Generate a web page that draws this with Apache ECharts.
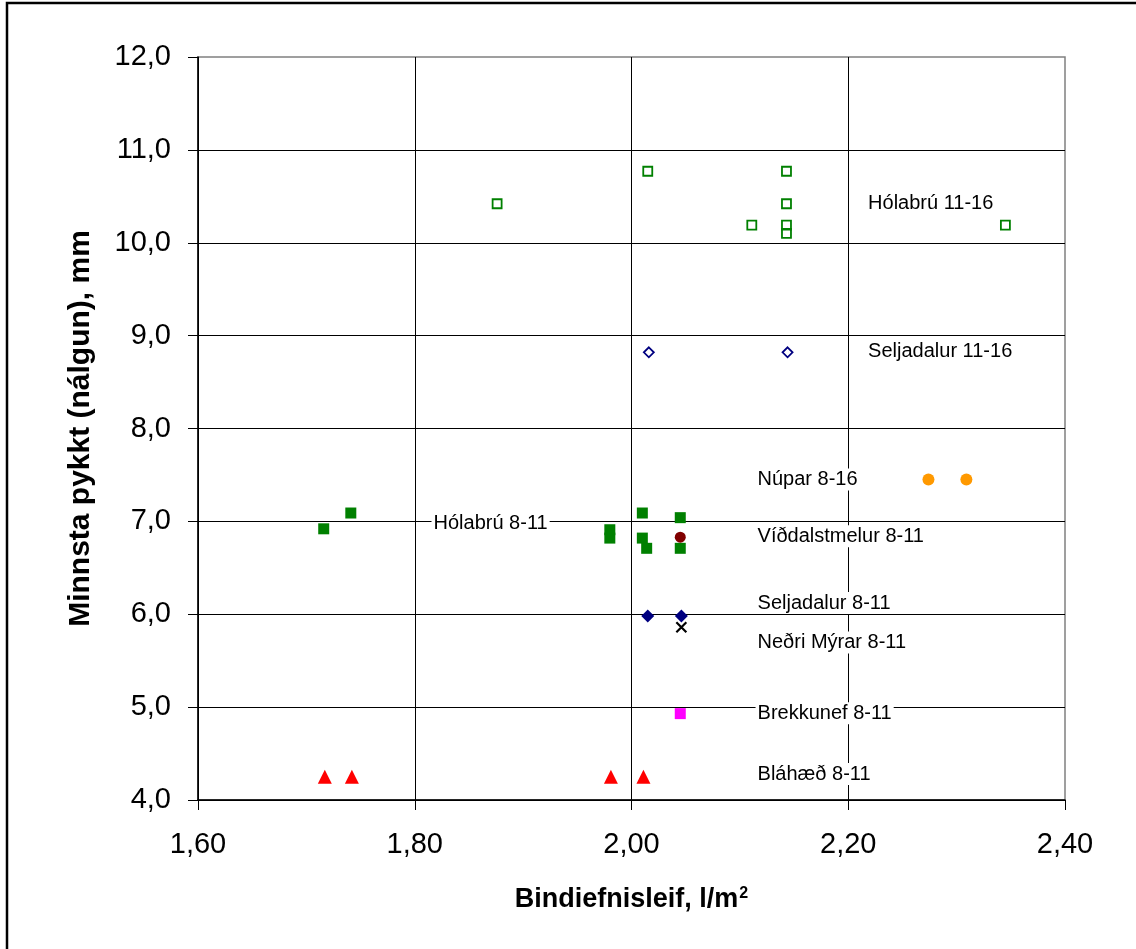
<!DOCTYPE html>
<html>
<head>
<meta charset="utf-8">
<script src="https://cdn.jsdelivr.net/npm/echarts@6/dist/echarts.min.js"></script>
<style>
  html, body { margin: 0; padding: 0; background: #fff; }
  #chart { width: 1136px; height: 949px; }
</style>
</head>
<body>
<div id="chart"></div>
<script>
// tick labels
const xTickLabels = ['1,60', '1,80', '2,00', '2,20', '2,40'];
const yTickLabels = ['4,0', '5,0', '6,0', '7,0', '8,0', '9,0', '10,0', '11,0', '12,0'];

// series values [bindiefnisleif, þykkt]
const holabru1116 = [[1.876, 10.42], [2.015, 10.77], [2.111, 10.19], [2.143, 10.77], [2.143, 10.42], [2.143, 10.19], [2.143, 10.10], [2.345, 10.19]];
const seljadalur1116 = [[2.016, 8.82], [2.144, 8.82]];
const nupar816 = [[2.274, 7.45], [2.309, 7.45]];
const holabru811 = [[1.716, 6.92], [1.741, 7.09], [1.980, 6.91], [1.980, 6.82], [2.010, 7.09], [2.010, 6.82], [2.014, 6.71], [2.045, 7.04], [2.045, 6.71]];
const vidalstmelur811 = [[2.045, 6.83]];
const seljadalur811 = [[2.015, 5.98], [2.046, 5.98]];
const nedriMyrar811 = [[2.046, 5.86]];
const brekkunef811 = [[2.045, 4.93]];
const blahaed811 = [[1.717, 4.25], [1.742, 4.25], [1.981, 4.25], [2.011, 4.25]];

// text labels placed in data space
const labelNames = ['Hólabrú 11-16', 'Seljadalur 11-16', 'Núpar 8-16', 'Hólabrú 8-11', 'Víðdalstmelur 8-11', 'Seljadalur 8-11', 'Neðri Mýrar 8-11', 'Brekkunef 8-11', 'Bláhæð 8-11'];
const labelX = [2.216, 2.216, 2.114, 1.815, 2.114, 2.114, 2.114, 2.114, 2.114];
const labelY = [10.42, 8.83, 7.45, 6.98, 6.84, 6.12, 5.695, 4.935, 4.28];

const FONT = "'Liberation Sans', Arial, sans-serif";

function pts(name, data, symbol, size, style, z) {
    style.opacity = 1;
    return {
        name: name,
        type: 'scatter',
        data: data,
        symbol: symbol,
        symbolSize: size,
        itemStyle: style,
        emphasis: { disabled: true },
        z: z || 3
    };
}

const option = {
    animation: false,
    backgroundColor: '#fff',
    textStyle: { fontFamily: FONT },
    grid: {
        left: 198, right: 71, top: 57, bottom: 149,
        show: true, borderColor: '#808080', borderWidth: 1.5,
        outerBoundsMode: 'none'
    },
    xAxis: {
        type: 'value', min: 1.6, max: 2.4, interval: 0.2,
        name: 'Bindiefnisleif, l/m{sup|2}',
        nameLocation: 'middle', nameGap: 86, nameMoveOverlap: false,
        nameTextStyle: {
            fontFamily: FONT, fontSize: 27, fontWeight: 'bold', color: '#000', lineHeight: 27,
            rich: { sup: { fontFamily: FONT, fontSize: 16, fontWeight: 'bold', color: '#000', verticalAlign: 'top', lineHeight: 27, padding: [0, 0, 14, 1] } }
        },
        axisLine: { show: true, onZero: false, lineStyle: { color: '#000', width: 1.5 } },
        axisTick: { show: true, length: 10, lineStyle: { color: '#000', width: 1 } },
        axisLabel: {
            margin: 30, fontFamily: FONT, fontSize: 29, color: '#000',
            formatter: (v, i) => xTickLabels[i]
        },
        splitLine: { show: true, showMaxLine: false, lineStyle: { color: '#000', width: 1 } }
    },
    yAxis: {
        type: 'value', min: 4, max: 12, interval: 1,
        name: 'Minnsta pykkt (nálgun), mm',
        nameLocation: 'middle', nameRotate: 90, nameGap: 102, nameMoveOverlap: false,
        nameTextStyle: { fontFamily: FONT, fontSize: 30, fontWeight: 'bold', color: '#000' },
        axisLine: { show: true, onZero: false, lineStyle: { color: '#000', width: 1.5 } },
        axisTick: { show: true, length: 10, lineStyle: { color: '#000', width: 1 } },
        axisLabel: {
            margin: 27, fontFamily: FONT, fontSize: 29, color: '#000',
            formatter: (v, i) => yTickLabels[i]
        },
        splitLine: { show: true, showMaxLine: false, lineStyle: { color: '#000', width: 1 } }
    },
    series: [
        {
            name: 'labels',
            type: 'scatter',
            silent: true,
            z: 2,
            symbolSize: 1,
            itemStyle: { color: 'rgba(0,0,0,0)', opacity: 1 },
            data: labelNames.map((n, i) => ({ name: n, value: [labelX[i], labelY[i]] })),
            label: {
                show: true, position: 'right', distance: 0,
                formatter: '{b}', opacity: 1,
                fontFamily: FONT, fontSize: 20, color: '#000',
                backgroundColor: '#fff', padding: [1, 2]
            }
        },
        pts('Hólabrú 11-16', holabru1116, 'rect', 9, { color: 'rgba(0,0,0,0)', borderColor: '#008000', borderWidth: 1.8 }),
        pts('Seljadalur 11-16', seljadalur1116, 'diamond', 10, { color: 'rgba(0,0,0,0)', borderColor: '#000080', borderWidth: 1.8 }),
        pts('Núpar 8-16', nupar816, 'circle', 12, { color: '#FF9900' }),
        pts('Hólabrú 8-11', holabru811, 'rect', 11, { color: '#008000' }),
        pts('Víðdalstmelur 8-11', vidalstmelur811, 'circle', 11, { color: '#800000' }, 4),
        pts('Seljadalur 8-11', seljadalur811, 'diamond', 13, { color: '#000080' }),
        pts('Neðri Mýrar 8-11', nedriMyrar811, 'path://M0,0L10,10M10,0L0,10', 10, { color: 'rgba(0,0,0,0)', borderColor: '#000', borderWidth: 2.2 }, 4),
        pts('Brekkunef 8-11', brekkunef811, 'rect', 11, { color: '#FF00FF' }),
        pts('Bláhæð 8-11', blahaed811, 'triangle', 14, { color: '#FF0000' })
    ],
    graphic: [{
        type: 'rect',
        shape: { x: 7, y: 3, width: 1200, height: 1000 },
        style: { fill: 'none', stroke: '#000', lineWidth: 2.5 },
        silent: true, z: 100
    }]
};

echarts.init(document.getElementById('chart')).setOption(option);
</script>
</body>
</html>
